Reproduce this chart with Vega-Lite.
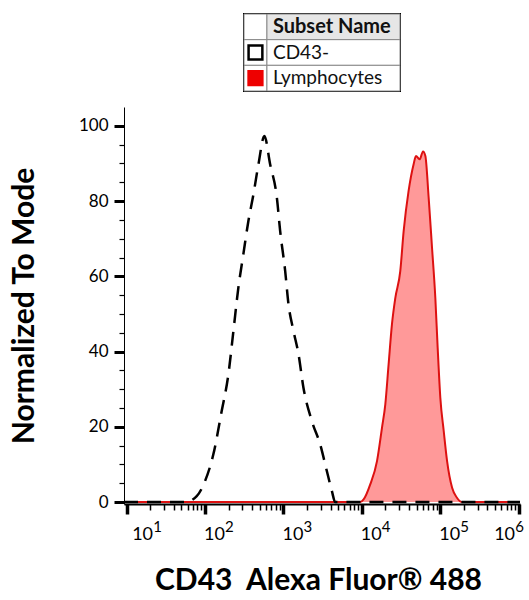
{
  "$schema": "https://vega.github.io/schema/vega-lite/v6.json",
  "background": "white",
  "padding": {"left": 9, "top": 12, "right": 3, "bottom": 4},
  "bounds": "flush",
  "center": true,
  "spacing": 16,
  "datasets": {
    "subsets": [
      {"label": "Subset Name", "role": "header"},
      {"label": "CD43-", "role": "subset"},
      {"label": "Lymphocytes", "role": "subset"}
    ],
    "hist": [
      {"subset": "CD43-", "fl": 9.25, "pct": 0},
      {"subset": "CD43-", "fl": 30, "pct": 0},
      {"subset": "CD43-", "fl": 55.6, "pct": 0},
      {"subset": "CD43-", "fl": 78.3, "pct": 1.6},
      {"subset": "CD43-", "fl": 100, "pct": 5.6},
      {"subset": "CD43-", "fl": 127.6, "pct": 12.7},
      {"subset": "CD43-", "fl": 163, "pct": 24.2},
      {"subset": "CD43-", "fl": 198.6, "pct": 34},
      {"subset": "CD43-", "fl": 230, "pct": 45.5},
      {"subset": "CD43-", "fl": 266, "pct": 57},
      {"subset": "CD43-", "fl": 308, "pct": 65.9},
      {"subset": "CD43-", "fl": 357, "pct": 74.7},
      {"subset": "CD43-", "fl": 414, "pct": 81.8},
      {"subset": "CD43-", "fl": 480, "pct": 89.8},
      {"subset": "CD43-", "fl": 571, "pct": 97.3},
      {"subset": "CD43-", "fl": 676, "pct": 89.8},
      {"subset": "CD43-", "fl": 824, "pct": 80.9},
      {"subset": "CD43-", "fl": 908, "pct": 72},
      {"subset": "CD43-", "fl": 1052, "pct": 61.4},
      {"subset": "CD43-", "fl": 1159, "pct": 52.6},
      {"subset": "CD43-", "fl": 1343, "pct": 45.5},
      {"subset": "CD43-", "fl": 1556, "pct": 39.3},
      {"subset": "CD43-", "fl": 1799, "pct": 30.4},
      {"subset": "CD43-", "fl": 2307, "pct": 21.5},
      {"subset": "CD43-", "fl": 2944, "pct": 15.3},
      {"subset": "CD43-", "fl": 3581, "pct": 8.2},
      {"subset": "CD43-", "fl": 4150, "pct": 2.9},
      {"subset": "CD43-", "fl": 4571, "pct": 0},
      {"subset": "CD43-", "fl": 20000, "pct": 0},
      {"subset": "CD43-", "fl": 1040000, "pct": 0},
      {"subset": "Lymphocytes", "fl": 9.25, "pct": 0},
      {"subset": "Lymphocytes", "fl": 9550, "pct": 0},
      {"subset": "Lymphocytes", "fl": 10520, "pct": 0.7},
      {"subset": "Lymphocytes", "fl": 12790, "pct": 4.7},
      {"subset": "Lymphocytes", "fl": 15600, "pct": 10.9},
      {"subset": "Lymphocytes", "fl": 18070, "pct": 19.8},
      {"subset": "Lymphocytes", "fl": 19910, "pct": 26},
      {"subset": "Lymphocytes", "fl": 21930, "pct": 36.6},
      {"subset": "Lymphocytes", "fl": 24210, "pct": 47.3},
      {"subset": "Lymphocytes", "fl": 26730, "pct": 54.3},
      {"subset": "Lymphocytes", "fl": 30900, "pct": 61.4},
      {"subset": "Lymphocytes", "fl": 34120, "pct": 72},
      {"subset": "Lymphocytes", "fl": 39450, "pct": 82.7},
      {"subset": "Lymphocytes", "fl": 45710, "pct": 89.8},
      {"subset": "Lymphocytes", "fl": 48980, "pct": 92},
      {"subset": "Lymphocytes", "fl": 54580, "pct": 91.1},
      {"subset": "Lymphocytes", "fl": 60260, "pct": 93.2},
      {"subset": "Lymphocytes", "fl": 64570, "pct": 92},
      {"subset": "Lymphocytes", "fl": 71120, "pct": 80.9},
      {"subset": "Lymphocytes", "fl": 78520, "pct": 67.6},
      {"subset": "Lymphocytes", "fl": 86500, "pct": 54.3},
      {"subset": "Lymphocytes", "fl": 92680, "pct": 41},
      {"subset": "Lymphocytes", "fl": 100200, "pct": 27.7},
      {"subset": "Lymphocytes", "fl": 110700, "pct": 18.9},
      {"subset": "Lymphocytes", "fl": 122200, "pct": 10.9},
      {"subset": "Lymphocytes", "fl": 141600, "pct": 3.8},
      {"subset": "Lymphocytes", "fl": 164100, "pct": 1.1},
      {"subset": "Lymphocytes", "fl": 190100, "pct": 0},
      {"subset": "Lymphocytes", "fl": 1040000, "pct": 0}
    ]
  },
  "vconcat": [
    {
      "width": 156,
      "height": 77,
      "view": {"stroke": "black", "strokeWidth": 2},
      "data": {"name": "subsets"},
      "encoding": {
        "y": {"field": "label", "type": "nominal", "sort": null, "axis": null,
              "scale": {"domain": ["Subset Name", "CD43-", "Lymphocytes"], "paddingInner": 0, "paddingOuter": 0}}
      },
      "layer": [
        {
          "mark": {"type": "rect", "fill": "white", "stroke": "#888888", "strokeWidth": 1},
          "encoding": {
            "x": {"datum": 0, "type": "quantitative", "scale": {"domain": [0, 6.8], "nice": false, "zero": false}, "axis": null},
            "x2": {"datum": 1}
          }
        },
        {
          "mark": {"type": "rect", "stroke": "#888888", "strokeWidth": 1},
          "encoding": {
            "x": {"datum": 1, "type": "quantitative"},
            "x2": {"datum": 6.8},
            "fill": {"condition": {"test": "datum.role === 'header'", "value": "#e6e6e6"}, "value": "white"}
          }
        },
        {
          "transform": [{"filter": "datum.role === 'subset'"}],
          "mark": {"type": "point", "shape": "square", "filled": true, "size": 190, "strokeWidth": 2.5, "opacity": 1},
          "encoding": {
            "x": {"datum": 0.5, "type": "quantitative"},
            "fill": {"field": "label", "type": "nominal", "legend": null,
                     "scale": {"domain": ["CD43-", "Lymphocytes"], "range": ["white", "#ee0000"]}},
            "stroke": {"field": "label", "type": "nominal", "legend": null,
                       "scale": {"domain": ["CD43-", "Lymphocytes"], "range": ["black", "#ee0000"]}}
          }
        },
        {
          "transform": [{"filter": "datum.role === 'header'"}],
          "mark": {"type": "text", "align": "left", "baseline": "middle", "dx": 6, "fontSize": 20, "fontWeight": "bold", "font": "Lato", "color": "#111111"},
          "encoding": {"x": {"datum": 1, "type": "quantitative"}, "text": {"field": "label"}}
        },
        {
          "transform": [{"filter": "datum.role === 'subset'"}],
          "mark": {"type": "text", "align": "left", "baseline": "middle", "dx": 6, "fontSize": 19, "font": "Lato", "color": "#111111"},
          "encoding": {"x": {"datum": 1, "type": "quantitative"}, "text": {"field": "label"}}
        }
      ]
    },
    {
      "width": 396,
      "height": 397,
      "data": {"name": "hist"},
      "resolve": {"axis": {"x": "independent", "y": "independent"}},
      "layer": [
        {
          "transform": [{"filter": "datum.subset === 'Lymphocytes'"}],
          "mark": {"type": "area", "interpolate": "monotone", "fill": "#ff9999", "clip": true},
          "encoding": {
            "x": {
              "field": "fl", "type": "quantitative",
              "scale": {"type": "log", "domain": [9.25, 1040000], "nice": false},
              "axis": {
                "orient": "bottom",
                "values": [10, 20, 30, 40, 50, 60, 70, 80, 90, 100, 200, 300, 400, 500, 600, 700, 800, 900, 1000, 2000, 3000, 4000, 5000, 6000, 7000, 8000, 9000, 10000, 20000, 30000, 40000, 50000, 60000, 70000, 80000, 90000, 100000, 200000, 300000, 400000, 500000, 600000, 700000, 800000, 900000, 1000000],
                "title": "CD43\u00a0 Alexa Fluor® 488",
                "titleFont": "Lato", "titleFontSize": 30, "titleFontWeight": "bold", "titleColor": "black", "titlePadding": 22,
                "titleX": 194,
                "labelExpr": "abs(log(datum.value)/LN10 - round(log(datum.value)/LN10)) < 0.001 ? '10' : ''",
                "labelAlign": "left", "labelBaseline": "alphabetic",
                "labelFont": "Lato", "labelFontSize": 18, "labelColor": "black",
                "labelPadding": 25,
                "labelOffset": {"condition": [{"test": "datum.value < 11", "value": 5}, {"test": "datum.value > 900001", "value": -25}], "value": -1.5},
                "labelOverlap": false, "labelFlush": false,
                "tickColor": "black",
                "tickSize": {"condition": {"test": "abs(log(datum.value)/LN10 - round(log(datum.value)/LN10)) < 0.001", "value": 10}, "value": 6},
                "tickWidth": {"condition": {"test": "abs(log(datum.value)/LN10 - round(log(datum.value)/LN10)) < 0.001", "value": 3.5}, "value": 1.5},
                "domainColor": "black", "domainWidth": 2,
                "grid": false
              }
            },
            "y": {
              "field": "pct", "type": "quantitative",
              "scale": {"domain": [-0.5, 105], "nice": false, "zero": false},
              "axis": {
                "orient": "left",
                "values": [0, 5, 10, 15, 20, 25, 30, 35, 40, 45, 50, 55, 60, 65, 70, 75, 80, 85, 90, 95, 100],
                "title": "Normalized To Mode",
                "titleFont": "Lato", "titleFontSize": 30, "titleFontWeight": "bold", "titleColor": "black", "titlePadding": 39,
                "labelExpr": "datum.value % 20 === 0 ? datum.label : ''",
                "labelFont": "Lato", "labelFontSize": 17, "labelColor": "black", "labelPadding": 6,
                "labelOverlap": false, "labelFlush": false,
                "tickColor": "black",
                "tickSize": {"condition": {"test": "datum.value % 20 === 0", "value": 10}, "value": 5},
                "tickWidth": {"condition": {"test": "datum.value % 20 === 0", "value": 3}, "value": 1.2},
                "domainColor": "black", "domainWidth": 1,
                "grid": false
              }
            }
          }
        },
        {
          "transform": [{"filter": "datum.subset === 'Lymphocytes'"}],
          "mark": {"type": "line", "interpolate": "monotone", "stroke": "#dd1111", "strokeWidth": 2, "clip": true},
          "encoding": {
            "x": {
              "field": "fl", "type": "quantitative",
              "axis": {
                "orient": "bottom",
                "values": [10, 100, 1000, 10000, 100000, 1000000],
                "title": null, "ticks": false, "domain": false, "grid": false,
                "labelExpr": "format(round(log(datum.value)/LN10), 'd')",
                "labelAlign": "left", "labelBaseline": "alphabetic",
                "labelFont": "Lato", "labelFontSize": 15, "labelColor": "black",
                "labelPadding": 27,
                "labelOffset": {"condition": [{"test": "datum.value < 11", "value": 26}, {"test": "datum.value > 900001", "value": -4}], "value": 19.5},
                "labelOverlap": false, "labelFlush": false
              }
            },
            "y": {"field": "pct", "type": "quantitative", "axis": null}
          }
        },
        {
          "transform": [{"filter": "datum.subset === 'CD43-'"}],
          "mark": {"type": "line", "interpolate": "monotone", "stroke": "black", "strokeWidth": 2.5, "strokeDash": [14, 9], "clip": true},
          "encoding": {
            "x": {"field": "fl", "type": "quantitative", "axis": null},
            "y": {"field": "pct", "type": "quantitative", "axis": null}
          }
        }
      ]
    }
  ],
  "config": {
    "font": "Lato",
    "view": {"stroke": null},
    "axis": {"grid": false}
  }
}
